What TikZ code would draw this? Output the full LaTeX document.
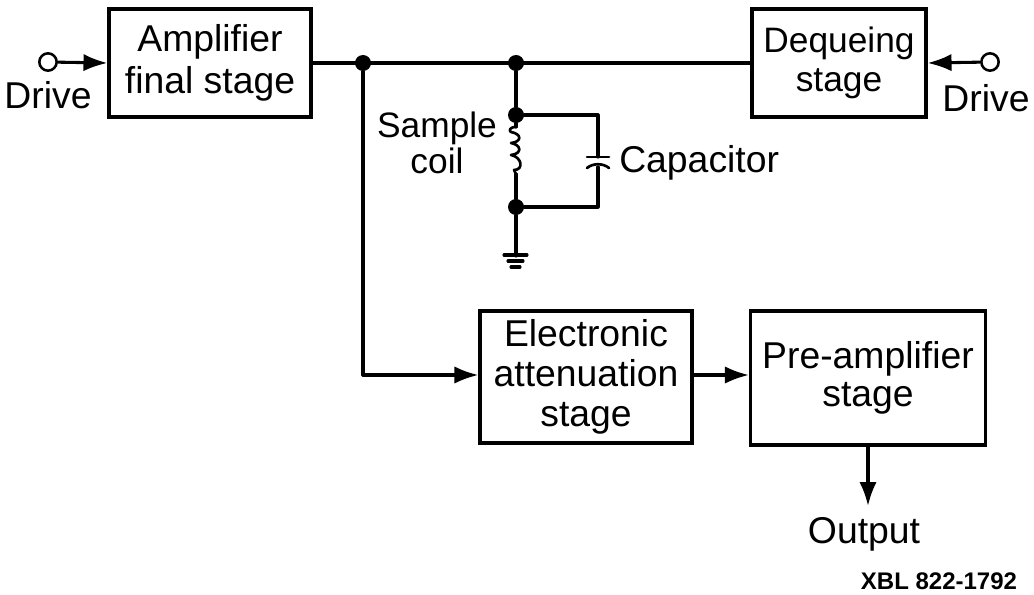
\documentclass[tikz,border=0pt]{standalone}
\usepackage{fontspec}
\setmainfont{Liberation Sans}
\usetikzlibrary{arrows.meta}
\tikzset{
  x=0.75pt,y=-0.75pt,
  wire/.style={line width=2.3pt,black,line cap=round,line join=round},
  blockbox/.style={draw,line width=2.3pt,inner sep=0pt,align=center,text=black},
  lbl/.style={inner sep=0pt,align=center},
  dot/.style={circle,fill=black,inner sep=0pt,minimum size=12pt},
  term/.style={circle,draw,fill=white,line width=1.9pt,inner sep=0pt,minimum size=13pt},
  arr/.style={wire,-{Latex[length=18pt,width=13pt]}}
}
\newcommand{\bigfont}[1]{\fontsize{28}{#1}\selectfont}
\newcommand{\midfont}[1]{\fontsize{26.5}{#1}\selectfont}
\begin{document}
\begin{tikzpicture}
\useasboundingbox (0,0) rectangle (1034,595);
\node[blockbox,font=\bigfont{31},minimum width=202*0.75pt,minimum height=108*0.75pt] (amp) at (210,63) {Amplifier\\final stage};
\node[blockbox,font=\midfont{29},minimum width=174*0.75pt,minimum height=108*0.75pt] (deq) at (839,63) {Dequeing\\stage};
\node[blockbox,font=\bigfont{30},minimum width=212*0.75pt,minimum height=132*0.75pt] (ele) at (586,377) {Electronic\\attenuation\\stage};
\node[blockbox,font=\bigfont{29},minimum width=235*0.75pt,minimum height=134*0.75pt] (pre) at (868,378) {Pre-amplifier\\stage};
\node[term] (t1) at (48,62) {};
\node[term] (t2) at (990,62) {};
\node[lbl,font=\bigfont{31}] (d1) at (48,95) {Drive};
\node[lbl,font=\bigfont{31}] (d2) at (986,98) {Drive};
\node[dot] (j1) at (363,63) {};
\node[dot] (j2) at (516,63) {};
\node[dot] (j3) at (516,115) {};
\node[dot] (j4) at (516,207) {};
\node[lbl,font=\midfont{27}] (sc) at (437,143) {Sample\\coil};
\node[lbl,font=\bigfont{31},anchor=west] (cap) at (619,163) {Capacitor};
\node[lbl,font=\bigfont{31}] (out) at (864,534) {Output};
\node[inner sep=0pt,font=\bfseries\fontsize{18}{20}\selectfont] (xbl) at (939,581) {XBL 822-1792};
\coordinate (a1) at (363,375);
\coordinate (o1) at (868,506);
\coordinate (c1) at (598,115);
\coordinate (c2) at (598,207);
\coordinate (c3) at (598,157);
\coordinate (c4) at (598,167);
\coordinate (g1) at (516,256);
\coordinate (l1) at (516,127);
\coordinate (l2) at (516,174);
\draw[arr] (t1) -- (amp.west);
\draw[arr] (t2) -- (deq.east);
\draw[wire] (amp.east) -- (deq.west);
\draw[wire] (j1) -- (a1);
\draw[arr] (a1) -- (a1 -| ele.west);
\draw[arr] (ele.east |- a1) -- (a1 -| pre.west);
\draw[arr] (pre.south) -- (o1);
\draw[wire] (j2) -- (j3);
\draw[wire] (j4) -- (g1);
\draw[wire] (j3) -- (c1) -- (c3);
\draw[wire] (j4) -- (c2) -- (c4);
\draw[wire] (j4) -- (l2);
\draw[wire] (j3) -- (l1);
\draw[wire,line width=2pt] (l1) .. controls (509,127) and (509,131) .. (511,132)
  .. controls (522,134) and (522,142) .. (511,143)
  .. controls (522,145) and (522,154) .. (511,155)
  .. controls (522,157) and (524,170) .. (514,170) -- (l2);
\draw[wire,line width=2pt] (587,157) -- (609,157);
\draw[wire,line width=2pt] (587,168) .. controls (593,163) and (603,163) .. (609,168);
\draw[wire] (504,255) -- (527,255);
\draw[wire] (508,261) -- (523,261);
\draw[wire] (511,267) -- (520,267);
\end{tikzpicture}
\end{document}
